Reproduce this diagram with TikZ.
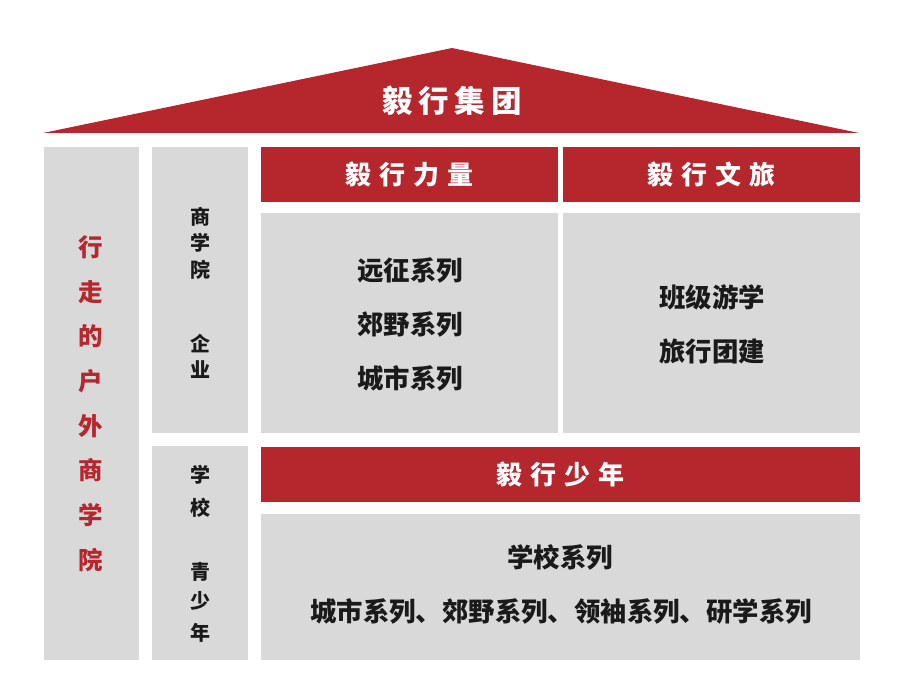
\documentclass[tikz,border=0pt]{standalone}
\usepackage{fontspec}
\setmainfont{Noto Sans CJK SC}
\definecolor{yxred}{HTML}{B5262D}
\definecolor{yxgray}{HTML}{D9D9D9}
\definecolor{yxtext}{HTML}{1A1A1A}
\newcommand{\yxsp}[1]{\hspace{#1pt}}
\begin{document}
\begin{tikzpicture}[x=1pt,y=-1pt,
  graybox/.style={fill=yxgray,draw=none,inner sep=0pt,outer sep=0pt},
  redbox/.style={fill=yxred,draw=none,inner sep=0pt,outer sep=0pt},
  headtxt/.style={text=white,font=\bfseries\fontsize{26}{26}\selectfont,inner sep=0pt},
  bodytxt/.style={text=yxtext,font=\bfseries\fontsize{26.4}{26.4}\selectfont,inner sep=0pt},
  sidetxt/.style={text=yxtext,font=\bfseries\fontsize{20}{20}\selectfont,inner sep=0pt},
  redtxt/.style={text=yxred,font=\bfseries\fontsize{24.5}{44.7}\selectfont,inner sep=0pt,align=center}
]
\useasboundingbox (0,0) rectangle (900,698);
% roof
\fill[yxred] (43,133) -- (452,48) -- (859,133) -- cycle;
\node[headtxt,font=\bfseries\fontsize{30.5}{30.5}\selectfont] (title) at (452,101) {毅\yxsp{6}行\yxsp{6}集\yxsp{6}团};
% boxes
\node[graybox,minimum width=95pt,minimum height=513pt] (left) at (91.5,403.5) {};
\node[graybox,minimum width=96pt,minimum height=286pt] (c2top) at (200,290) {};
\node[graybox,minimum width=96pt,minimum height=214pt] (c2bot) at (200,553) {};
\node[redbox,minimum width=297pt,minimum height=55pt] (h1) at (409.5,174.5) {};
\node[redbox,minimum width=297pt,minimum height=55pt] (h2) at (711.5,174.5) {};
\node[graybox,minimum width=297pt,minimum height=220pt] (g1) at (409.5,323) {};
\node[graybox,minimum width=297pt,minimum height=220pt] (g2) at (711.5,323) {};
\node[redbox,minimum width=599pt,minimum height=55pt] (h3) at (560.5,474.5) {};
\node[graybox,minimum width=599pt,minimum height=146pt] (g3) at (560.5,587) {};
% header texts
\node[headtxt] (h1t) at (h1) {毅\yxsp{8}行\yxsp{8}力\yxsp{8}量};
\node[headtxt] (h2t) at (h2) {毅\yxsp{8}行\yxsp{8}文\yxsp{8}旅};
\node[headtxt] (h3t) at (h3) {毅\yxsp{8}行\yxsp{8}少\yxsp{8}年};
% body texts
\node[bodytxt] (t1) at (410,270) {远征系列};
\node[bodytxt] (t2) at (410,324) {郊野系列};
\node[bodytxt] (t3) at (410,378) {城市系列};
\node[bodytxt] (t4) at (712,297) {班级游学};
\node[bodytxt] (t5) at (712,351) {旅行团建};
\node[bodytxt] (t6) at (560,557) {学校系列};
\node[bodytxt] (t7) at (561,611) {城市系列、郊野系列、领袖系列、研学系列};
% left column
\node[redtxt] (lt) at (91,403.5) {行\\走\\的\\户\\外\\商\\学\\院};
% column 2
\node[sidetxt] (s1) at (200,217) {商};
\node[sidetxt] (s2) at (200,243) {学};
\node[sidetxt] (s3) at (200,270) {院};
\node[sidetxt] (s4) at (200,344) {企};
\node[sidetxt] (s5) at (200,370) {业};
\node[sidetxt] (s6) at (200,475) {学};
\node[sidetxt] (s7) at (200,508) {校};
\node[sidetxt] (s8) at (200,572) {青};
\node[sidetxt] (s9) at (200,601) {少};
\node[sidetxt] (s10) at (200,633) {年};
\end{tikzpicture}
\end{document}
